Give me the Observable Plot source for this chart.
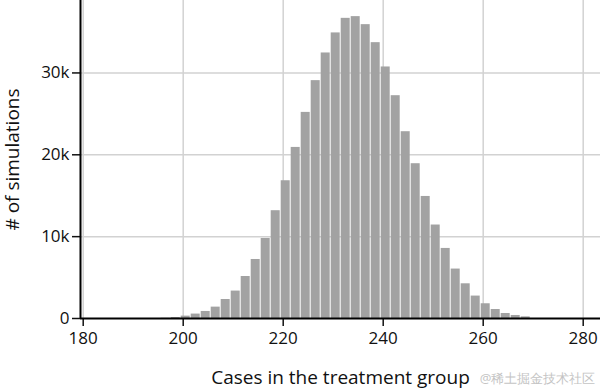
<!DOCTYPE html>
<html>
<head>
<meta charset="utf-8">
<script src="https://cdn.jsdelivr.net/npm/d3@7"></script>
<script src="https://cdn.jsdelivr.net/npm/@observablehq/plot@0.6"></script>
<style>
  html, body { margin: 0; padding: 0; background: white; }
</style>
</head>
<body>
<div id="chart"></div>
<script>
// Histogram bins: lowest integer value in each 2-wide bin (bin covers binLow and binLow+1)
const binLow = [196, 198, 200, 202, 204, 206, 208, 210, 212, 214, 216, 218, 220, 222, 224, 226, 228, 230,
                232, 234, 236, 238, 240, 242, 244, 246, 248, 250, 252, 254, 256, 258, 260, 262, 264, 266, 268];
// Number of simulations in each bin
const counts = [30, 120, 290, 540, 860, 1390, 2320, 3350, 5130, 7210, 9780, 13170, 16830, 20900, 25180, 29060, 32440, 34890,
                36670, 36880, 35900, 33700, 30730, 27220, 22820, 18910, 14910, 11420, 8560, 6040, 4240, 2740, 1800, 1100, 610, 370, 200];
const xTicks = [180, 200, 220, 240, 260, 280];
const yTicks = [0, 10000, 20000, 30000];
const xLabel = "Cases in the treatment group";
const yLabel = "# of simulations";
const watermark = "@稀土掘金技术社区";

const data = binLow.map((b, i) => ({lo: b - 0.5, hi: b + 1.5, n: counts[i]}));
const xMin = 179.46;

const chart = Plot.plot({
  width: 600,
  height: 389,
  marginLeft: 80,
  marginRight: 0,
  marginTop: 0,
  marginBottom: 71,
  style: {fontFamily: "'Open Sans', sans-serif", fontSize: "17px", background: "white", color: "#111"},
  x: {domain: [xMin, 283.46]},
  y: {domain: [0, 38850]},
  marks: [
    Plot.ruleX(xTicks, {stroke: "#d2d2d2", strokeWidth: 1.5}),
    Plot.ruleY(yTicks.slice(1), {stroke: "#d2d2d2", strokeWidth: 1.5}),
    Plot.rectY(data, {x1: "lo", x2: "hi", y: "n", fill: "#a2a2a2", insetLeft: 0.5, insetRight: 0.5}),
    Plot.axisX({ticks: xTicks, tickSize: 8, tickPadding: 5, strokeWidth: 1.5, label: null, fontSize: 17, fill: "#111"}),
    Plot.axisY({ticks: yTicks, tickSize: 8, tickPadding: 3, strokeWidth: 1.5, label: null, fontSize: 17, fill: "#111",
      tickFormat: d => d === 0 ? "0" : (d / 1000) + "k"}),
    Plot.ruleY([0], {stroke: "black", strokeWidth: 2}),
    Plot.ruleX([xMin], {stroke: "black", strokeWidth: 2}),
    Plot.text([xLabel], {frameAnchor: "bottom", textAnchor: "middle", dy: 65, fontSize: 19, fill: "#111"}),
    Plot.text([yLabel], {frameAnchor: "left", textAnchor: "middle", rotate: -90, dx: -68, fontSize: 19, fill: "#111"}),
    Plot.text([watermark], {frameAnchor: "bottom-right", textAnchor: "end", dx: -5, dy: 64, fontSize: 13, fill: "#c4c4c4"})
  ]
});
document.getElementById("chart").appendChild(chart);
</script>
</body>
</html>
